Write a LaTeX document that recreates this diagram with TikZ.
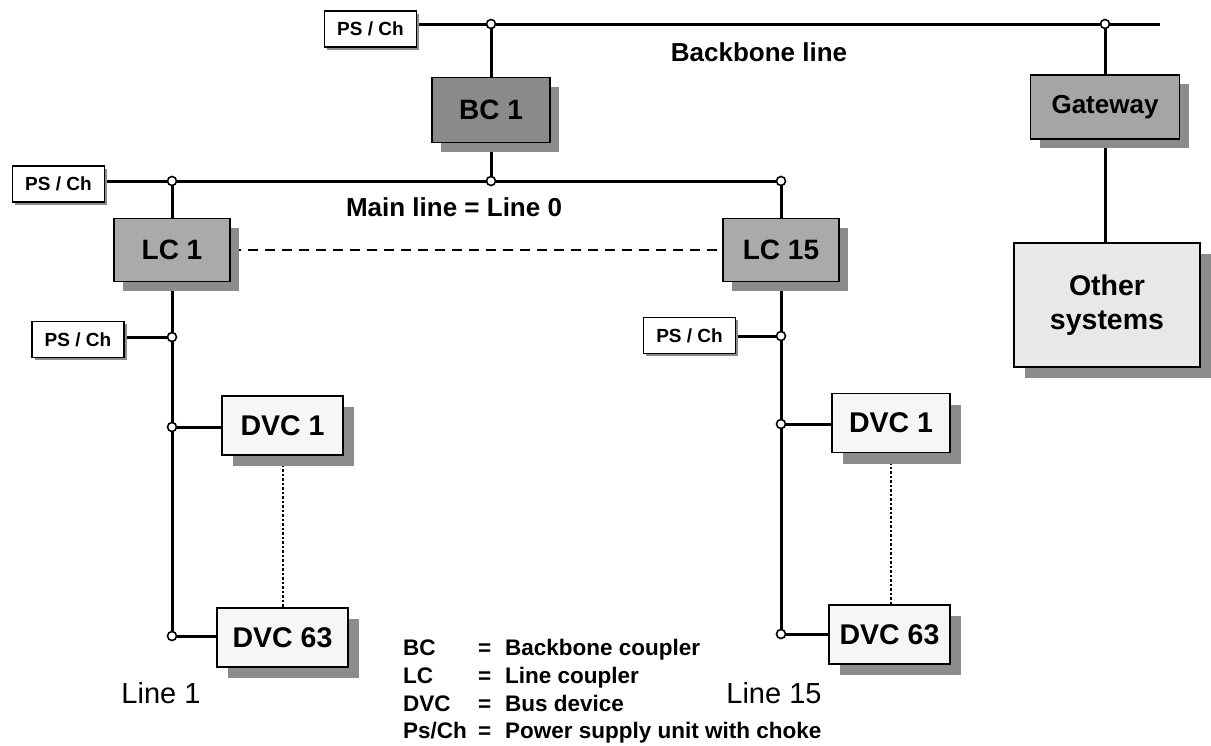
\documentclass[tikz,border=0pt]{standalone}
\usepackage{fontspec}
\setmainfont{Liberation Sans}
\usetikzlibrary{shadows,backgrounds}
\pgfdeclarelayer{paper}
\pgfsetlayers{paper,background,main}
\definecolor{bcgray}{RGB}{138,138,138}
\definecolor{lcgray}{RGB}{170,170,170}
\definecolor{gwgray}{RGB}{165,165,165}
\definecolor{devfill}{RGB}{246,246,246}
\definecolor{othfill}{RGB}{232,232,232}
\definecolor{shadowgray}{RGB}{140,140,140}
\tikzset{
  box/.style={draw=black, line width=1.8pt, inner sep=0pt, font=\bfseries},
  shad/.style={drop shadow={shadow xshift=#1, shadow yshift=-#1, fill=shadowgray, opacity=1}},
  bigbox/.style={box, shad=9pt, font=\bfseries\fontsize{28}{30}\selectfont},
  psbox/.style={box, fill=white, shad=2.5pt, minimum width=92pt, minimum height=36pt, font=\bfseries\fontsize{19}{21}\selectfont},
  devbox/.style={box, fill=devfill, shad=11pt, minimum height=59pt, font=\bfseries\fontsize{28.5}{30}\selectfont},
  wire/.style={line width=3pt},
  junc/.style={circle, draw=black, fill=white, line width=1.6pt, inner sep=0pt, minimum size=9pt},
  lbl/.style={font=\bfseries\fontsize{26}{28}\selectfont, inner sep=0pt, anchor=base},
  linelbl/.style={font=\fontsize{29}{31}\selectfont, inner sep=0pt, anchor=base},
  leg/.style={font=\bfseries\fontsize{22.5}{24}\selectfont, inner sep=0pt, anchor=base west},
  dotline/.style={line width=2pt, dash pattern=on 2.5pt off 2pt},
}
\begin{document}
\begin{tikzpicture}[x=1pt, y=-1pt]
\useasboundingbox (0,0) rectangle (1211,745);
\begin{pgfonlayer}{paper}
\fill[white] (0,0) rectangle (1211,745);
\end{pgfonlayer}
% boxes
\node[psbox] (ps0) at (370.5,29) {PS / Ch};
\node[bigbox, fill=bcgray, minimum width=118pt, minimum height=65pt] (bc) at (491,110) {BC 1};
\node[bigbox, fill=gwgray, minimum width=149pt, minimum height=64pt, font=\bfseries\fontsize{26}{28}\selectfont] (gw) at (1105,107) {Gateway};
\node[box, fill=othfill, shad=11pt, minimum width=186pt, minimum height=124pt, align=center, font=\bfseries\fontsize{28.5}{34}\selectfont] (oth) at (1107,305) {Other\\systems};
\node[psbox] (ps1) at (58.5,184) {PS / Ch};
\node[bigbox, fill=lcgray, minimum width=116pt, minimum height=63pt] (lc1) at (172,250) {LC 1};
\node[bigbox, fill=lcgray, minimum width=116pt, minimum height=63pt] (lc15) at (781,250) {LC 15};
\node[psbox] (psl1) at (78,339.5) {PS / Ch};
\node[psbox] (psl15) at (689.5,335.5) {PS / Ch};
\node[devbox, minimum width=121pt] (d1a) at (282.5,425.5) {DVC 1};
\node[devbox, minimum width=131pt] (d63a) at (282.5,637.5) {DVC 63};
\node[devbox, minimum width=118pt] (d1b) at (891,423) {DVC 1};
\node[devbox, minimum width=121pt] (d63b) at (889.5,634.5) {DVC 63};
% junctions
\node[junc] (jb1) at (491,24) {};
\node[junc] (jb2) at (1105,24) {};
\coordinate (bend) at (1160,24);
\node[junc] (jm1) at (172,181) {};
\node[junc] (jm2) at (491,181) {};
\node[junc] (jm3) at (781,181) {};
\node[junc] (jl1p) at (172,337) {};
\node[junc] (jl1a) at (172,427) {};
\node[junc] (jl1b) at (172,636) {};
\node[junc] (jl15p) at (781,336) {};
\node[junc] (jl15a) at (781,424) {};
\node[junc] (jl15b) at (781,634) {};
% connectors
\begin{pgfonlayer}{background}
\draw[wire] (ps0.east |- jb1) -- (jb1.center) -- (jb2.center) -- (bend);
\draw[wire] (jb1.center) -- (bc.north);
\draw[wire] (bc.south) -- (jm2.center);
\draw[wire] (jb2.center) -- (gw.north);
\draw[wire] (gw.south) -- (oth.north -| gw.south);
\draw[wire] (ps1.east |- jm1) -- (jm1.center) -- (jm2.center) -- (jm3.center);
\draw[wire] (jm1.center) -- (lc1.north);
\draw[wire] (lc1.south) -- (jl1p.center) -- (jl1a.center) -- (jl1b.center);
\draw[wire] (jm3.center) -- (lc15.north);
\draw[wire] (lc15.south) -- (jl15p.center) -- (jl15a.center) -- (jl15b.center);
\draw[wire] (psl1.east |- jl1p) -- (jl1p.center);
\draw[wire] (psl15.east |- jl15p) -- (jl15p.center);
\draw[wire] (jl1a.center) -- (d1a.west |- jl1a);
\draw[wire] (jl1b.center) -- (d63a.west |- jl1b);
\draw[wire] (jl15a.center) -- (d1b.west |- jl15a);
\draw[wire] (jl15b.center) -- (d63b.west |- jl15b);
\draw[line width=1.4pt, dash pattern=on 10pt off 7pt] (lc1.east) -- (lc15.west);
\draw[dotline] (d1a.south) -- (d63a.north -| d1a.south);
\draw[dotline] (d1b.south) -- (d63b.north -| d1b.south);
\end{pgfonlayer}
% labels
\node[lbl] (tbb) at (759,61) {Backbone line};
\node[lbl] (tml) at (454,216) {Main line = Line 0};
\node[linelbl] (tl1) at (161,703) {Line 1};
\node[linelbl] (tl15) at (774,703) {Line 15};
% legend
\node[leg] (la1) at (403,655) {BC};
\node[leg] (le1) at (478,655) {=};
\node[leg] (lt1) at (505,655) {Backbone coupler};
\node[leg] (la2) at (403,683) {LC};
\node[leg] (le2) at (478,683) {=};
\node[leg] (lt2) at (505,683) {Line coupler};
\node[leg] (la3) at (403,711) {DVC};
\node[leg] (le3) at (478,711) {=};
\node[leg] (lt3) at (505,711) {Bus device};
\node[leg] (la4) at (403,738) {Ps/Ch};
\node[leg] (le4) at (478,738) {=};
\node[leg] (lt4) at (505,738) {Power supply unit with choke};
\end{tikzpicture}
\end{document}
